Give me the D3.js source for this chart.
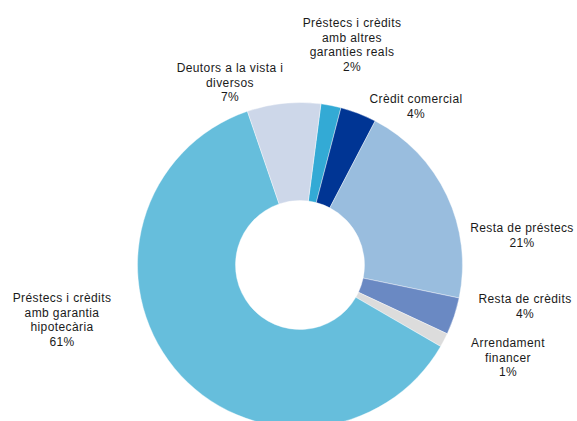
<!DOCTYPE html>
<html>
<head>
<meta charset="utf-8">
<script src="https://cdn.jsdelivr.net/npm/d3@7"></script>
<style>
html,body{margin:0;padding:0;background:#fff;}
svg{display:block;}
text{font-family:"Liberation Sans",Arial,sans-serif;font-size:12px;fill:#1a1a1a;letter-spacing:0.4px;}
</style>
</head>
<body>
<svg id="chart" width="577" height="421"></svg>
<script>
const categories = [
  "Préstecs i crèdits amb altres garanties reals",
  "Crèdit comercial",
  "Resta de préstecs",
  "Resta de crèdits",
  "Arrendament financer",
  "Préstecs i crèdits amb garantia hipotecària",
  "Deutors a la vista i diversos"
];
const values = [2.0, 3.6, 20.6, 3.7, 1.4, 61.4, 7.3];
const colors = ["#33aad5", "#003594", "#99bdde", "#6a89c3", "#dcdcdc", "#66bedc", "#cdd7e9"];
const labelLines = [
  ["Préstecs i crèdits", "amb altres", "garanties reals"],
  ["Crèdit comercial"],
  ["Resta de préstecs"],
  ["Resta de crèdits"],
  ["Arrendament", "financer"],
  ["Préstecs i crèdits", "amb garantia", "hipotecària"],
  ["Deutors a la vista i", "diversos"]
];
// label anchor (center x, first-line center y)
const labelPos = [[352, 23], [416, 99], [522, 228], [525, 299], [508, 343], [62, 298], [230, 68]];

const svg = d3.select("#chart");
const cx = 300, cy = 265, rOuter = 162.5, rInner = 64.5;
const startDeg = 7.4;

const pie = d3.pie().sort(null).value(d => d)
  .startAngle(startDeg * Math.PI / 180)
  .endAngle((startDeg + 360) * Math.PI / 180);
const arc = d3.arc().innerRadius(rInner).outerRadius(rOuter);

const g = svg.append("g").attr("transform", `translate(${cx},${cy})`);
g.selectAll("path").data(pie(values)).enter().append("path")
  .attr("d", arc)
  .attr("fill", (d, i) => colors[i])
  .attr("stroke", "#ffffff")
  .attr("stroke-width", 0.4);

const lineH = 14.5;
const labels = svg.append("g");
categories.forEach((c, i) => {
  const lines = labelLines[i].concat([Math.round(values[i]) + "%"]);
  const t = labels.append("text")
    .attr("text-anchor", "middle")
    .attr("x", labelPos[i][0])
    .attr("y", labelPos[i][1])
    .attr("dy", "0.35em");
  lines.forEach((l, j) => {
    t.append("tspan").attr("x", labelPos[i][0]).attr("dy", j === 0 ? "0.35em" : lineH).text(l);
  });
});
</script>
</body>
</html>
